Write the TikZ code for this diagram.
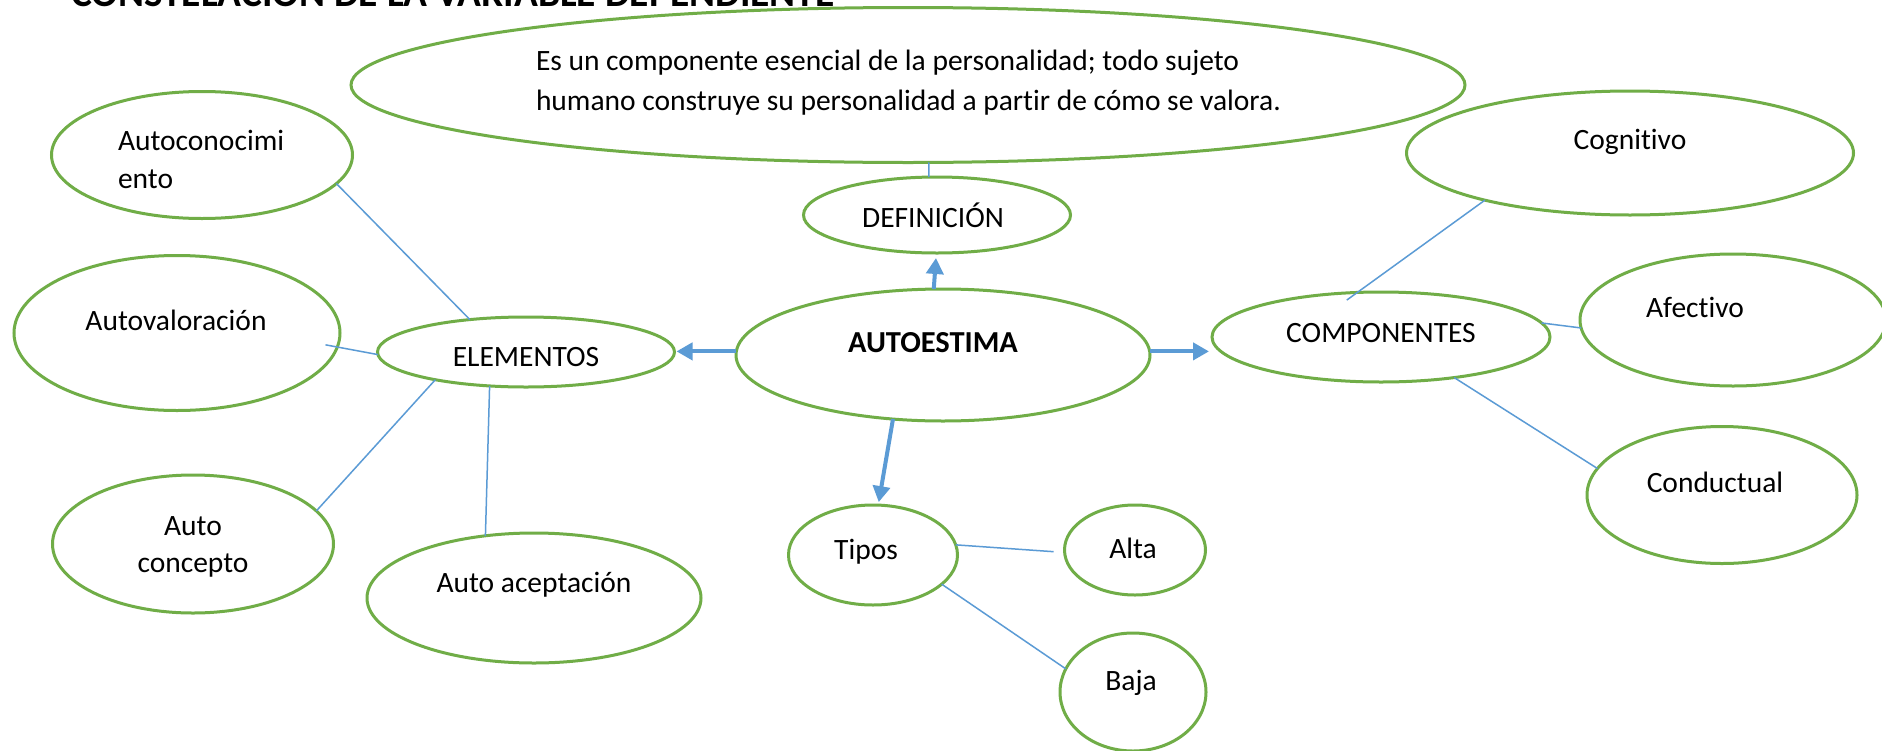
\documentclass[tikz,border=0pt]{standalone}
\usepackage{fontspec}
\setmainfont{Carlito}[Ligatures=NoCommon]
\usetikzlibrary{shapes.geometric,arrows.meta}
\definecolor{ovalgreen}{HTML}{70AD47}
\definecolor{linkblue}{HTML}{5B9BD5}
\begin{document}
\begin{tikzpicture}[x=1pt,y=-1pt,
  oval/.style={ellipse, draw=ovalgreen, line width=3pt, inner sep=0pt, outer sep=0pt},
  txt/.style={font=\fontsize{29.5}{38}\selectfont, inner sep=0pt, outer sep=0pt, anchor=base},
  link/.style={draw=linkblue, line width=1.5pt},
  arr/.style={draw=linkblue, line width=4pt, -{Triangle[length=16pt,width=17pt]}}
]
\fill[white] (0,0) rectangle (1882,750);
\useasboundingbox (0,0) rectangle (1882,750);
\begin{scope}
\clip (0,0) rectangle (1882,750);
% title (cut by the top edge)
\node[txt, anchor=base west, font=\fontsize{39.4}{44}\selectfont\bfseries] (title) at (71,6) {CONSTELACIÓN DE LA VARIABLE DEPENDIENTE};

% ellipses
\node[oval, minimum width=1114pt, minimum height=155pt] (def) at (908,85) {};
\node[oval, minimum width=301pt, minimum height=127pt] (autoc) at (202,155) {};
\node[oval, minimum width=326pt, minimum height=155pt] (autov) at (177,333) {};
\node[oval, minimum width=297pt, minimum height=70pt] (elem) at (526,352) {};
\node[oval, minimum width=414pt, minimum height=132pt] (auto) at (943,355) {};
\node[oval, minimum width=267pt, minimum height=76pt] (defi) at (937,215) {};
\node[oval, minimum width=338pt, minimum height=90pt] (comp) at (1381,337) {};
\node[oval, minimum width=447pt, minimum height=124pt] (cogn) at (1630,153) {};
\node[oval, minimum width=306pt, minimum height=132pt] (afec) at (1733,320) {};
\node[oval, minimum width=270pt, minimum height=137pt] (cond) at (1722,495) {};
\node[oval, minimum width=281pt, minimum height=138pt] (conc) at (193,544) {};
\node[oval, minimum width=334pt, minimum height=130pt] (acep) at (534,598) {};
\node[oval, minimum width=169pt, minimum height=100pt] (tipos) at (873,555) {};
\node[oval, minimum width=141pt, minimum height=90pt] (alta) at (1135,550) {};
\node[oval, minimum width=146pt, minimum height=118pt] (baja) at (1133,692) {};

% texts
\node[txt, anchor=base west] (def-t1) at (536,70) {Es un componente esencial de la personalidad; todo sujeto};
\node[txt, anchor=base west] (def-t2) at (536,110) {humano construye su personalidad a partir de cómo se valora.};
\node[txt, anchor=base west] (autoc-t1) at (118,150) {Autoconocimi};
\node[txt, anchor=base west] (autoc-t2) at (118,188) {ento};
\node[txt] (autov-t) at (176,330) {Autovaloración};
\node[txt] (elem-t) at (526,366) {ELEMENTOS};
\node[txt, font=\fontsize{30.5}{38}\selectfont\bfseries] (auto-t) at (933,352) {AUTOESTIMA};
\node[txt] (defi-t) at (933,227) {DEFINICIÓN};
\node[txt] (comp-t) at (1381,342) {COMPONENTES};
\node[txt] (cogn-t) at (1630,149) {Cognitivo};
\node[txt] (afec-t) at (1695,317) {Afectivo};
\node[txt] (cond-t) at (1715,492) {Conductual};
\node[txt] (conc-t1) at (193,535) {Auto};
\node[txt] (conc-t2) at (193,572) {concepto};
\node[txt] (acep-t) at (534,592) {Auto aceptación};
\node[txt] (tipos-t) at (866,559) {Tipos};
\node[txt] (alta-t) at (1133,558) {Alta};
\node[txt] (baja-t) at (1131,690) {Baja};

% thin connectors
\draw[link] (def.-75) -- (defi.102);
\draw[link] (elem.150) -- (autoc.-12);
\draw[link, shorten >=-12pt] (elem.181) -- (autov.-5);
\draw[link] (elem.-163) -- (conc.15.5);
\draw[link] (elem.-137.6) -- (acep.128.7);
\draw[link, shorten <=-13pt] (comp.118) -- (cogn.-162);
\draw[link] (comp.5) -- (afec.183);
\draw[link] (comp.-29) -- (cond.168);
\draw[link, shorten >=11pt] (tipos.7) -- (alta.182);
\draw[link] (tipos.-23) -- (baja.161);

% arrows from AUTOESTIMA
\draw[arr, shorten >=5pt] (auto.98) -- (defi.-91);
\draw[arr, shorten >=2pt] (auto.179) -- (auto.179 -| elem.east);
\draw[arr, shorten >=3pt] (auto.1) -- (auto.1 -| comp.west);
\draw[arr, shorten >=3pt] (auto.-128) -- (tipos.84);
\end{scope}
\end{tikzpicture}
\end{document}
